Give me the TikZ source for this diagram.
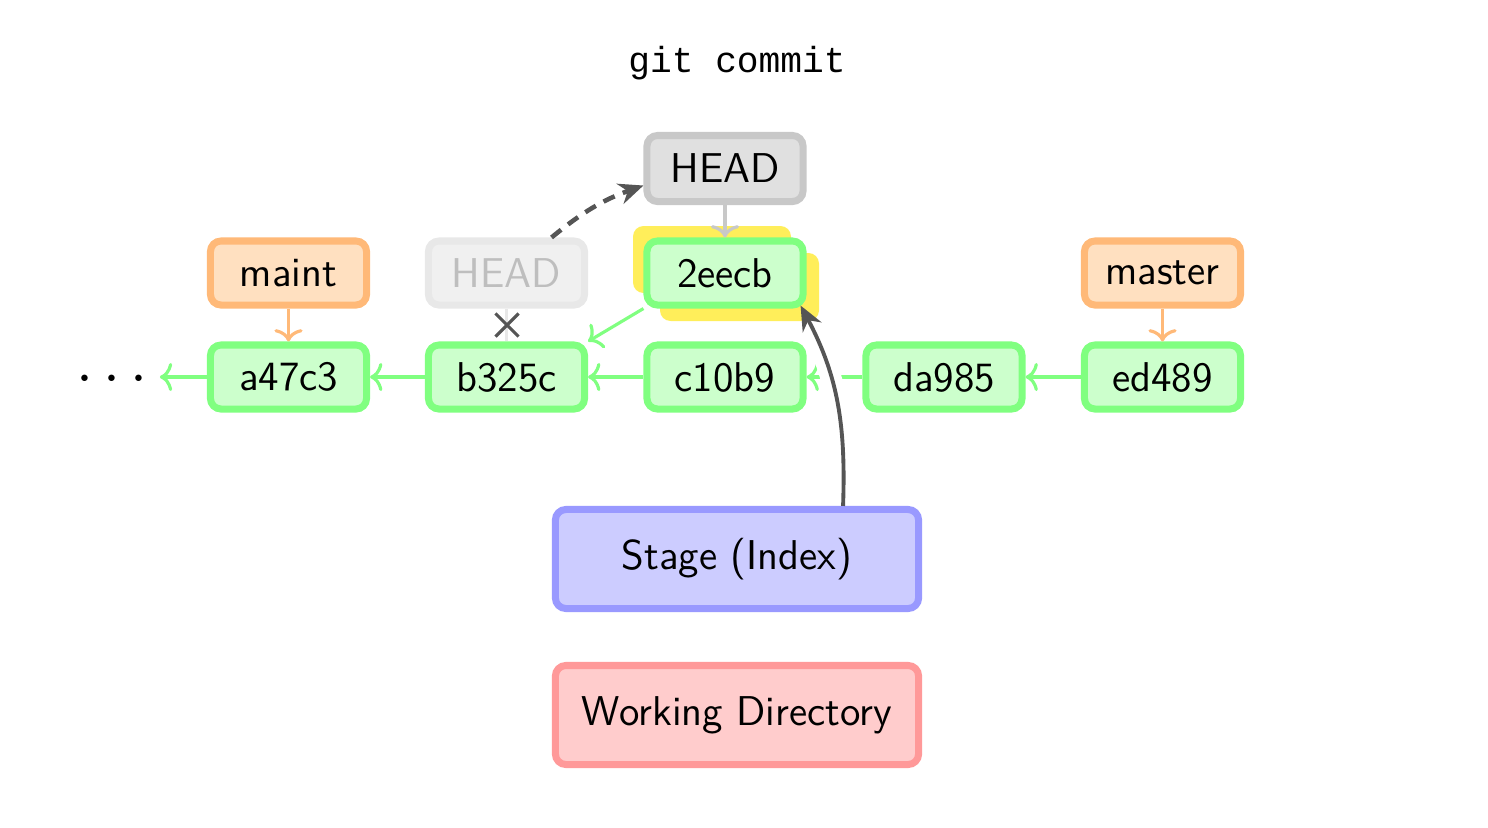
\documentclass[tikz,border=0pt]{standalone}
\usepackage{fontspec}
\setmonofont{Liberation Mono}
\usetikzlibrary{arrows.meta,calc,backgrounds,shapes.misc}

\definecolor{cgreenB}{RGB}{128,255,128}
\definecolor{cgreenF}{RGB}{204,255,204}
\definecolor{corangeB}{RGB}{255,185,120}
\definecolor{corangeF}{RGB}{255,224,192}
\definecolor{cgrayB}{RGB}{200,200,200}
\definecolor{cgrayF}{RGB}{224,224,224}
\definecolor{coldB}{RGB}{232,232,232}
\definecolor{coldF}{RGB}{240,240,240}
\definecolor{coldT}{RGB}{190,190,190}
\definecolor{cblueB}{RGB}{153,153,255}
\definecolor{cblueF}{RGB}{204,204,255}
\definecolor{credB}{RGB}{255,153,153}
\definecolor{credF}{RGB}{255,204,204}
\definecolor{cyellow}{RGB}{255,238,90}
\definecolor{cdark}{RGB}{85,85,85}

\begin{document}
\begin{tikzpicture}[x=0.01cm,y=-0.01cm,
  font=\sffamily\fontsize{11.85}{14}\selectfont,
  box/.style={rounded corners=3pt, line width=2pt, minimum width=1.56cm,
    minimum height=0.64cm, inner sep=0pt, text=black},
  commit/.style={box, draw=cgreenB, fill=cgreenF},
  branch/.style={box, draw=corangeB, fill=corangeF},
  headbox/.style={box, draw=cgrayB, fill=cgrayF, minimum height=0.66cm},
  oldhead/.style={box, draw=coldB, fill=coldF, text=coldT},
  area/.style={box, minimum width=3.63cm, minimum height=0.99cm},
  garrow/.style={draw=cgreenB, line width=0.9pt, -{To[length=3.5pt,width=8pt]}},
  oarrow/.style={draw=corangeB, line width=0.9pt, -{To[length=3.5pt,width=8pt]}},
  harrow/.style={draw=cgrayB, line width=0.9pt, -{To[length=3.5pt,width=8pt]}},
  darrow/.style={draw=cdark, line width=1.1pt, -{Stealth[length=7pt,width=6pt]}},
  highlight/.style={fill=cyellow, rounded corners=3pt}
]
\useasboundingbox (0,0) rectangle (1488,827);

% title
\node[font=\ttfamily\fontsize{10.3}{12}\selectfont] (title) at (737,63) {git commit};

% commit chain
\node[font=\fontsize{16}{18}\selectfont] (dots) at (112,380) {$\cdots$};
\node[commit] (a47c3) at (288.5,377) {a47c3};
\node[commit] (b325c) at (506.5,377) {b325c};
\node[commit] (c10b9) at (725,377) {c10b9};
\node[commit] (da985) at (944,377) {da985};
\node[commit] (ed489) at (1162.5,377) {ed489};
\node[commit] (c2eecb) at (725,273) {2eecb};

% new commit highlight
\begin{scope}[on background layer]
  \fill[highlight] ($(c2eecb.center)+(-92,-47)$) rectangle ($(c2eecb.center)+(66,20)$);
  \fill[highlight] ($(c2eecb.center)+(-65,-20)$) rectangle ($(c2eecb.center)+(94,48)$);
\end{scope}

% references
\node[branch] (maint) at (288.5,273) {maint};
\node[branch] (master) at (1162.5,273) {master};
\node[oldhead] (oldhead) at (506.5,273) {HEAD};
\node[headbox] (head) at (725,168.5) {HEAD};

% areas
\node[area, draw=cblueB, fill=cblueF] (stage) at (737,559) {Stage (Index)};
\node[area, draw=credB, fill=credF] (wd) at (737,715) {Working Directory};

% parent links
\draw[garrow] (a47c3.west) -- (a47c3.west -| dots.east);
\draw[garrow] (b325c) -- (a47c3);
\draw[garrow] (c10b9) -- (b325c);
\draw[garrow] (da985) -- (c10b9);
\draw[garrow] (ed489) -- (da985);
\draw[garrow] (c2eecb.south west) -- (b325c.north east);

% branch and HEAD pointers
\draw[oarrow] (maint) -- (a47c3);
\draw[oarrow] (master) -- (ed489);
\draw[harrow] (head) -- (c2eecb);
\draw[draw=coldB, line width=0.9pt] (oldhead) -- (b325c);
\node[cross out, draw=cdark, line width=0.9pt, minimum size=0.2cm, inner sep=0pt] (xmark) at (507,325) {};

% HEAD moves to the new commit
\draw[darrow, dashed, line width=1.3pt, dash pattern=on 3.5pt off 2.5pt]
  ([xshift=0.45cm]oldhead.north) to[bend left=10] ([yshift=-0.17cm]head.west);

% commit from the stage
\begin{scope}
  \clip (815,360) rectangle (860,395);
  \draw[white, line width=6pt] ([xshift=1.06cm]stage.north) to[out=88,in=-62] ([xshift=-0.06cm,yshift=0.03cm]c2eecb.south east);
\end{scope}
\draw[darrow] ([xshift=1.06cm]stage.north) to[out=88,in=-62] ([xshift=-0.06cm,yshift=0.03cm]c2eecb.south east);
\end{tikzpicture}
\end{document}
